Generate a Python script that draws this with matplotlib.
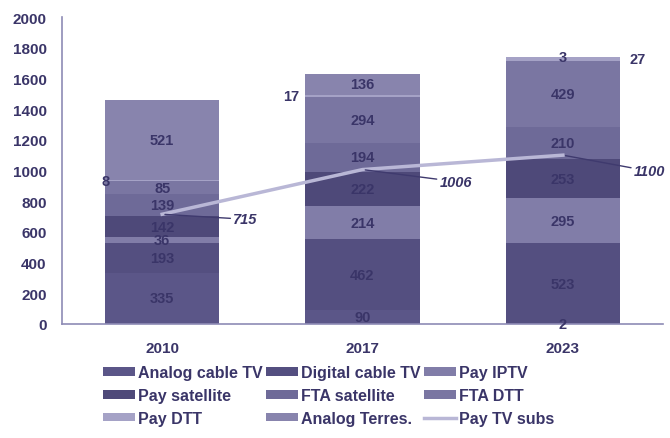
import matplotlib
matplotlib.use("Agg")
import matplotlib.pyplot as plt
from matplotlib.patches import Patch
from matplotlib.lines import Line2D
import numpy as np

plt.rcParams['font.family'] = ['Liberation Sans', 'DejaVu Sans']

years = ["2010", "2017", "2023"]
series_names = ["Analog cable TV", "Digital cable TV", "Pay IPTV", "Pay satellite",
                "FTA satellite", "FTA DTT", "Pay DTT", "Analog Terres."]
analog_cable = [335, 90, 2]
digital_cable = [193, 462, 523]
pay_iptv = [36, 214, 295]
pay_satellite = [142, 222, 253]
fta_satellite = [139, 194, 210]
fta_dtt = [85, 294, 429]
pay_dtt = [8, 17, 27]
analog_terres = [521, 136, 3]
pay_tv_subs = [715, 1006, 1100]
yticks = [0, 200, 400, 600, 800, 1000, 1200, 1400, 1600, 1800, 2000]

series = [analog_cable, digital_cable, pay_iptv, pay_satellite,
          fta_satellite, fta_dtt, pay_dtt, analog_terres]
colors = ["#5b5688", "#544f80", "#817da8", "#4e4979",
          "#6e6a98", "#7a76a2", "#a5a2c6", "#8884ad"]

txt = "#3a3568"
axc = "#8e8bb5"
line_c = "#b9b7d6"

fig = plt.figure(figsize=(6.7, 4.39), dpi=100)
ax = fig.add_axes([62/670, 1-325/439, (663-62)/670, (325-18)/439])

x = np.arange(len(years))
w = 0.57
bottom = np.zeros(len(years))
# outside-label placement for the thin Pay DTT slice (offset in points, alignment)
pay_dtt_place = [(5, 'right'), (-6, 'right'), (10, 'left')]
for name, vals, c in zip(series_names, series, colors):
    vals = np.array(vals, dtype=float)
    ax.bar(x, vals, w, bottom=bottom, color=c, edgecolor='none', zorder=2)
    for i, v in enumerate(vals):
        cy = bottom[i] + v / 2
        if name == "Pay DTT":
            off, ha = pay_dtt_place[i]
            edge = x[i] - w/2 if ha == 'right' else x[i] + w/2
            ax.annotate(f"{int(v)}", (edge, cy), xytext=(off * 0.72, 0),
                        textcoords='offset points', ha=ha, va='center',
                        fontsize=10.5, fontweight='bold', color=txt, zorder=5)
        else:
            ax.text(x[i], cy, f"{int(v)}", ha='center', va='center',
                    fontsize=10.5, fontweight='bold', color=txt, zorder=5)
    bottom += vals

ax.plot(x, pay_tv_subs, color=line_c, lw=2.5, zorder=4)
# label offsets in pixels (dx, dy down)
lab_off = [(71, 5), (77, 12), (71, 16)]
for i, v in enumerate(pay_tv_subs):
    dx, dy = lab_off[i]
    ax.annotate(f"{v}", (x[i], v), xytext=(dx * 0.72, -dy * 0.72),
                textcoords='offset points', ha='left', va='center',
                fontsize=10.5, fontweight='bold', fontstyle='italic', color=txt,
                zorder=5,
                arrowprops=dict(arrowstyle='-', color="#3f3a6e", lw=1.0,
                                shrinkA=0, shrinkB=2))

ax.set_xlim(-0.5, 2.5)
ax.set_ylim(0, 2000)
ax.set_yticks(yticks)
ax.set_xticks(x)
ax.set_xticklabels(years)
for s in ['top', 'right']:
    ax.spines[s].set_visible(False)
for s in ['left', 'bottom']:
    ax.spines[s].set_color(axc)
    ax.spines[s].set_linewidth(1.2)
ax.tick_params(axis='both', length=0, labelsize=11, labelcolor=txt)
ax.tick_params(axis='y', pad=11)
ax.tick_params(axis='x', pad=12)
for lab in ax.get_xticklabels() + ax.get_yticklabels():
    lab.set_fontweight('bold')

handles = [Patch(facecolor=c, edgecolor='none') for c in colors]
labels = list(series_names)
handles.append(Line2D([0], [0], color=line_c, lw=2.5))
labels.append("Pay TV subs")
order = [0, 3, 6, 1, 4, 7, 2, 5, 8]
leg = fig.legend([handles[i] for i in order], [labels[i] for i in order],
                 ncol=3, loc='upper left', bbox_to_anchor=(89/670, 1-352/439),
                 frameon=False, handlelength=2.0, handleheight=0.45,
                 handletextpad=0.15, columnspacing=0.25, labelspacing=0.48,
                 prop={'weight': 'bold', 'size': 11.5})
for t in leg.get_texts():
    t.set_color(txt)

fig.savefig("out.png", dpi=100)
